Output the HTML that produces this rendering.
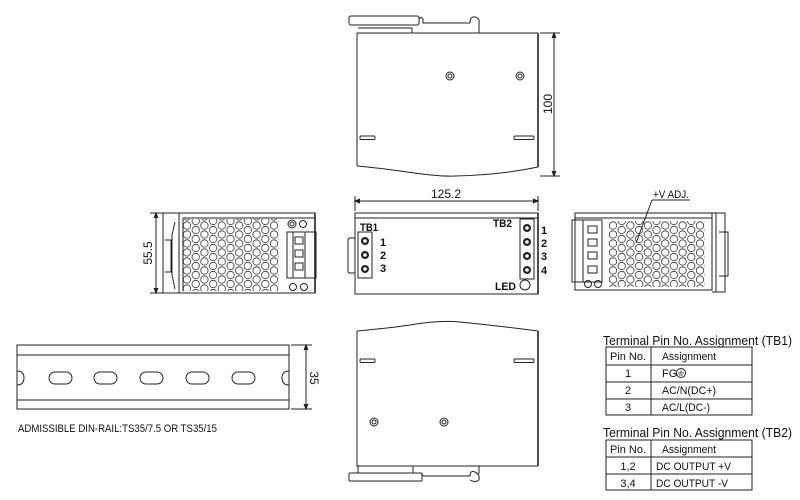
<!DOCTYPE html>
<html><head><meta charset="utf-8"><style>
html,body{margin:0;padding:0;background:#fff;}
svg{display:block;font-family:"Liberation Sans",sans-serif;}
</style></head><body>
<svg width="800" height="500" viewBox="0 0 800 500" xmlns="http://www.w3.org/2000/svg">
<defs>
<pattern id="hex" width="17.4" height="9" patternUnits="userSpaceOnUse" x="183" y="221">
<circle cx="4" cy="4.5" r="3.7" fill="none" stroke="#333" stroke-width="0.8"/>
<circle cx="12.7" cy="0" r="3.7" fill="none" stroke="#333" stroke-width="0.8"/>
<circle cx="12.7" cy="9" r="3.7" fill="none" stroke="#333" stroke-width="0.8"/>
</pattern>
<pattern id="hex2" width="17.4" height="9" patternUnits="userSpaceOnUse" x="609" y="221">
<circle cx="4" cy="4.5" r="3.7" fill="none" stroke="#333" stroke-width="0.8"/>
<circle cx="12.7" cy="0" r="3.7" fill="none" stroke="#333" stroke-width="0.8"/>
<circle cx="12.7" cy="9" r="3.7" fill="none" stroke="#333" stroke-width="0.8"/>
</pattern>
</defs>
<g fill="none" stroke="#222" stroke-width="1">
<rect x="349" y="16" width="70" height="9" rx="2"/>
<path d="M419 19 Q421 16 423 19 V23 H470 Q470 16 475 17 Q480 18 479 23 V33"/>
<path d="M357 33 H538 M357 33 V166 M358 28 H412 V33"/>
<path d="M538 33 V167" stroke-width="1.6"/>
<path d="M357 166 Q380 168 400 171 Q440 177 455 176 Q500 175 538 167"/>
<rect x="360" y="136" width="15" height="3.5" rx="1"/>
<rect x="514" y="136" width="20" height="3.5" rx="1"/>
<circle cx="450" cy="76" r="4"/><circle cx="450" cy="76" r="2"/>
<circle cx="520" cy="76" r="4"/><circle cx="520" cy="76" r="2"/>
<path d="M540 33 H560 M540 176 H560 M554 33 V176"/>
<path d="M552 38 L554 33 L556 38 M552 171 L554 176 L556 171" fill="#222"/>

<rect x="179" y="213" width="136" height="80"/>
<path d="M315 213 V293" stroke-width="1.6"/>
<path d="M163 213 H179 M163 293 H179 M163 213 V293 M183 218 H315 M183 218 V291"/>
<path d="M165 240 H171 V272 H165 M175 222 L172 235 V275 L175 289"/>
<rect x="183" y="219" width="96" height="72" fill="url(#hex)" stroke="none"/>
<rect x="287" y="232" width="29" height="46"/>
<path d="M293 232 V278 M305 232 V278"/>
<rect x="295" y="237" width="8" height="7"/><rect x="295" y="250" width="8" height="7"/><rect x="295" y="263" width="8" height="7"/>
<circle cx="292" cy="224" r="4"/><circle cx="292" cy="224" r="2"/><circle cx="303" cy="224" r="3.5"/>
<circle cx="293" cy="287" r="3.5"/><circle cx="304" cy="287" r="3.5"/>
<path d="M150 213 H163 M150 293 H163 M156 213 V293"/>
<path d="M154 218 L156 213 L158 218 M154 288 L156 293 L158 288" fill="#222"/>

<rect x="355" y="213" width="183" height="81"/>
<path d="M538 213 V294" stroke-width="1.6"/>
<path d="M355 218 H538"/>
<rect x="358" y="232" width="14" height="46"/>
<path d="M355 238 H350 Q348 238 348 240 V271 Q348 273 350 273 H355"/>
<rect x="520" y="219" width="14" height="60"/>
<circle cx="525" cy="285" r="5"/>
<path d="M355 201 H538 M355 196 V211 M538 196 V211"/>
<path d="M360 199 L355 201 L360 203 M533 199 L538 201 L533 203" fill="#222"/>

<rect x="575" y="213" width="137" height="77"/>
<path d="M575 218 H712"/>
<rect x="572" y="220" width="11" height="62"/>
<rect x="583" y="220" width="19" height="62"/>
<rect x="588" y="226" width="9" height="7"/><rect x="588" y="239" width="9" height="7"/><rect x="588" y="252" width="9" height="7"/><rect x="588" y="266" width="9" height="7"/>
<rect x="609" y="221" width="96" height="66" fill="url(#hex2)" stroke="none"/>
<circle cx="588" cy="284" r="3.5"/><circle cx="598" cy="284" r="3.5"/>
<path d="M712 213 H725 V292 H712 M716 213 V292 M719 232 H728 V276 H719"/>
<path d="M652 200 H690 M652 200 L636 243"/>

<rect x="17" y="345" width="272" height="64"/>
<path d="M17 355 H289 M17 400 H289"/>
<path d="M17 371 Q24 371 24 378 Q24 385 17 385 M289 371 Q282 371 282 378 Q282 385 289 385"/>
<rect x="49" y="372" width="23" height="12" rx="6"/>
<rect x="94" y="372" width="23" height="12" rx="6"/>
<rect x="140" y="372" width="23" height="12" rx="6"/>
<rect x="186" y="372" width="23" height="12" rx="6"/>
<rect x="232" y="372" width="23" height="12" rx="6"/>
<path d="M291 345 H312 M291 409 H312 M306 345 V409"/>
<path d="M304 350 L306 345 L308 350 M304 404 L306 409 L308 404" fill="#222"/>

<path d="M357 331 V466 H538"/>
<path d="M538 331 V466" stroke-width="1.6"/>
<path d="M357 331 Q390 328 410 325 Q440 320 460 322 Q500 326 538 331"/>
<rect x="360" y="359" width="15" height="3.5" rx="1"/>
<rect x="514" y="359" width="20" height="3.5" rx="1"/>
<circle cx="374" cy="422" r="4"/><circle cx="374" cy="422" r="2"/>
<circle cx="444" cy="422" r="4"/><circle cx="444" cy="422" r="2"/>
<path d="M358 466 V473 H413 V466"/>
<rect x="349" y="473" width="73" height="8" rx="1"/>
<path d="M422 473 Q422 476 424 476 H470 Q470 470 475 472 Q480 474 479 480 Q475 483 470 480 M479 474 V466"/>

<rect x="606" y="347" width="146" height="68"/>
<path d="M606 365 H752 M606 382 H752 M606 399 H752 M651 347 V415"/>
<rect x="606" y="440" width="146" height="50"/>
<path d="M606 457 H752 M606 474 H752 M651 440 V490"/>
<circle cx="681" cy="373" r="4.5"/>
</g>
<path d="M678 373 H684 M681 370 V373 M679 375 H683" stroke="#222" stroke-width="0.7"/>

<g fill="#111" font-size="11">
<text x="0" y="0" transform="translate(552,104) rotate(-90)" text-anchor="middle" font-size="12">100</text>
<text x="0" y="0" transform="translate(152,253) rotate(-90)" text-anchor="middle" font-size="12">55.5</text>
<text x="0" y="0" transform="translate(310,378) rotate(90)" text-anchor="middle" font-size="12">35</text>
<text x="446" y="198" text-anchor="middle" font-size="12">125.2</text>
<g font-weight="bold" font-size="11">
<text x="360" y="231" textLength="18" lengthAdjust="spacingAndGlyphs">TB1</text>
<text x="493" y="227" textLength="19" lengthAdjust="spacingAndGlyphs">TB2</text>
<text x="380" y="246">1</text><text x="380" y="259">2</text><text x="380" y="272">3</text>
<text x="541" y="234">1</text><text x="541" y="247">2</text><text x="541" y="260">3</text><text x="541" y="274">4</text>
<text x="495" y="290" textLength="21" lengthAdjust="spacingAndGlyphs">LED</text>
</g>
<text x="653" y="198" font-size="11" textLength="36" lengthAdjust="spacingAndGlyphs">+V ADJ.</text>
<text x="18" y="432" font-size="11" textLength="199" lengthAdjust="spacingAndGlyphs">ADMISSIBLE DIN-RAIL:TS35/7.5 OR TS35/15</text>
<text x="603" y="345" font-size="13" textLength="189" lengthAdjust="spacingAndGlyphs">Terminal Pin No.  Assignment (TB1)</text>
<text x="603" y="437" font-size="13" textLength="189" lengthAdjust="spacingAndGlyphs">Terminal Pin No.  Assignment (TB2)</text>
<g font-size="11">
<text x="628" y="360" text-anchor="middle" textLength="36" lengthAdjust="spacingAndGlyphs">Pin No.</text><text x="662" y="360" textLength="54" lengthAdjust="spacingAndGlyphs">Assignment</text>
<text x="628" y="377" text-anchor="middle">1</text><text x="662" y="377">FG</text>
<text x="628" y="394" text-anchor="middle">2</text><text x="662" y="394" textLength="54" lengthAdjust="spacingAndGlyphs">AC/N(DC+)</text>
<text x="628" y="411" text-anchor="middle">3</text><text x="662" y="411" textLength="48" lengthAdjust="spacingAndGlyphs">AC/L(DC-)</text>
<text x="628" y="453" text-anchor="middle" textLength="36" lengthAdjust="spacingAndGlyphs">Pin No.</text><text x="662" y="453" textLength="54" lengthAdjust="spacingAndGlyphs">Assignment</text>
<text x="628" y="470" text-anchor="middle">1,2</text><text x="656" y="470" textLength="75" lengthAdjust="spacingAndGlyphs">DC OUTPUT +V</text>
<text x="628" y="487" text-anchor="middle">3,4</text><text x="656" y="487" textLength="72" lengthAdjust="spacingAndGlyphs">DC OUTPUT -V</text>
</g>
</g>
<g fill="#222">
<circle cx="365" cy="241" r="4"/><circle cx="365" cy="255" r="4"/><circle cx="365" cy="269" r="4"/>
<circle cx="527" cy="228" r="4"/><circle cx="527" cy="242" r="4"/><circle cx="527" cy="256" r="4"/><circle cx="527" cy="270" r="4"/>
</g>
<g fill="#fff">
<circle cx="365" cy="241" r="1.8"/><circle cx="365" cy="255" r="1.8"/><circle cx="365" cy="269" r="1.8"/>
<circle cx="527" cy="228" r="1.8"/><circle cx="527" cy="242" r="1.8"/><circle cx="527" cy="256" r="1.8"/><circle cx="527" cy="270" r="1.8"/>
</g>
</svg>
</body></html>
